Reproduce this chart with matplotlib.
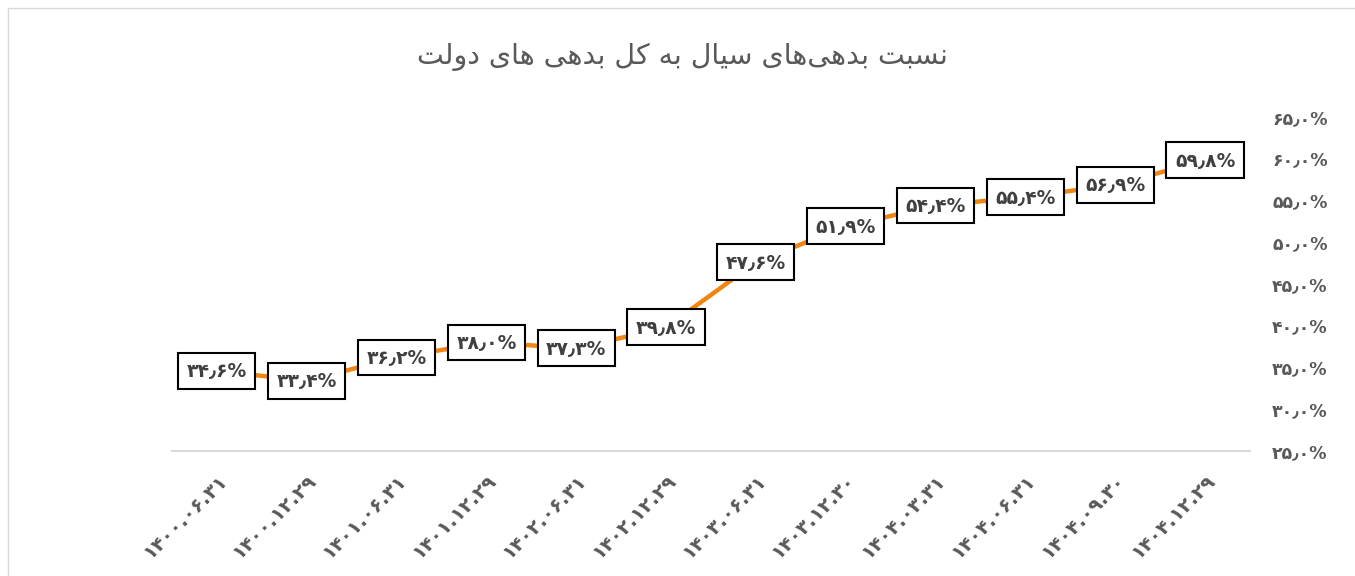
import matplotlib.pyplot as plt
from matplotlib.patches import Rectangle

# data
dates = ['1400.06.31', '1400.12.29', '1401.06.31', '1401.12.29', '1402.06.31',
         '1402.12.29', '1403.06.31', '1403.12.30', '1404.03.31', '1404.06.31',
         '1404.09.30', '1404.12.29']
share = [34.6, 33.4, 36.2, 38.0, 37.3, 39.8, 47.6, 51.9, 54.4, 55.4, 56.9, 59.8]
y_ticks = [25, 30, 35, 40, 45, 50, 55, 60, 65]
title = 'نسبت بدهی\u200cهای سیال به کل بدهی های دولت'

FA_DIGITS = str.maketrans('0123456789', '۰۱۲۳۴۵۶۷۸۹')

# isolated, final, initial, medial
FORMS = {
    'ا': ('\uFE8D', '\uFE8E'),
    'د': ('\uFEA9', '\uFEAA'),
    'و': ('\uFEED', '\uFEEE'),
    'ب': ('\uFE8F', '\uFE90', '\uFE91', '\uFE92'),
    'ت': ('\uFE95', '\uFE96', '\uFE97', '\uFE98'),
    'س': ('\uFEB1', '\uFEB2', '\uFEB3', '\uFEB4'),
    'ل': ('\uFEDD', '\uFEDE', '\uFEDF', '\uFEE0'),
    'ن': ('\uFEE5', '\uFEE6', '\uFEE7', '\uFEE8'),
    'ه': ('\uFEE9', '\uFEEA', '\uFEEB', '\uFEEC'),
    'ی': ('\uFBFC', '\uFBFD', '\uFBFE', '\uFBFF'),
    'ک': ('\uFB8E', '\uFB8F', '\uFB90', '\uFB91'),
}


def shape(text):
    # tiny persian shaper: pick contextual forms, then reverse for RTL
    out = []
    for i, ch in enumerate(text):
        if ch not in FORMS:
            if ch != '\u200c':
                out.append(ch)
            continue
        prev = text[i - 1] if i > 0 else ''
        nxt = text[i + 1] if i + 1 < len(text) else ''
        join_prev = prev in FORMS and len(FORMS[prev]) == 4
        join_next = len(FORMS[ch]) == 4 and nxt in FORMS
        f = FORMS[ch]
        if join_prev and join_next:
            out.append(f[3])
        elif join_prev:
            out.append(f[1])
        elif join_next:
            out.append(f[2])
        else:
            out.append(f[0])
    return ''.join(reversed(out))


def fa_pct(v):
    return ('%.1f%%' % v).replace('.', '\u066B').translate(FA_DIGITS)


plt.rcParams['font.family'] = ['DejaVu Sans']

fig = plt.figure(figsize=(13.55, 5.76), dpi=100)
ax = fig.add_axes([172 / 1355, 1 - 451 / 576, 1078 / 1355, 334 / 576])

# outer chart border
fig.patches.append(Rectangle((8 / 1355, -0.1), 1.2, 1 - 8 / 576 + 0.1,
                             transform=fig.transFigure, fill=False,
                             edgecolor='#D9D9D9', linewidth=1))

x = list(range(len(dates)))
ax.plot(x, share, color='#F0850F', linewidth=3.2, solid_capstyle='round', zorder=2)

for xi, v in zip(x, share):
    ax.text(xi, v, fa_pct(v), ha='center', va='center', fontsize=13.5,
            fontweight='bold', color='#404040', zorder=3,
            bbox=dict(boxstyle='square,pad=0.45', facecolor='white',
                      edgecolor='black', linewidth=1.5))

ax.set_xlim(-0.5, len(dates) - 0.5)
ax.set_ylim(25, 65)
ax.set_yticks(y_ticks)
ax.set_yticklabels([fa_pct(t) for t in y_ticks])
ax.yaxis.tick_right()
ax.set_xticks(x)
ax.set_xticklabels([d.translate(FA_DIGITS) for d in dates], rotation=45,
                   ha='right', rotation_mode='anchor')

for lbl in ax.get_yticklabels():
    lbl.set_color('#595959')
    lbl.set_fontweight('bold')
    lbl.set_fontsize(12.5)
for lbl in ax.get_xticklabels():
    lbl.set_color('#595959')
    lbl.set_fontweight('bold')
    lbl.set_fontsize(14)

ax.tick_params(axis='both', length=0)
ax.tick_params(axis='y', pad=16)
ax.tick_params(axis='x', pad=14)
for side in ['top', 'left', 'right']:
    ax.spines[side].set_visible(False)
ax.spines['bottom'].set_color('#D9D9D9')
ax.spines['bottom'].set_linewidth(1.5)

fig.text(682 / 1355, 1 - 57 / 576, shape(title), ha='center',
         va='center', fontsize=20.5, color='#595959')

fig.savefig('out.png', dpi=100, facecolor='white')
